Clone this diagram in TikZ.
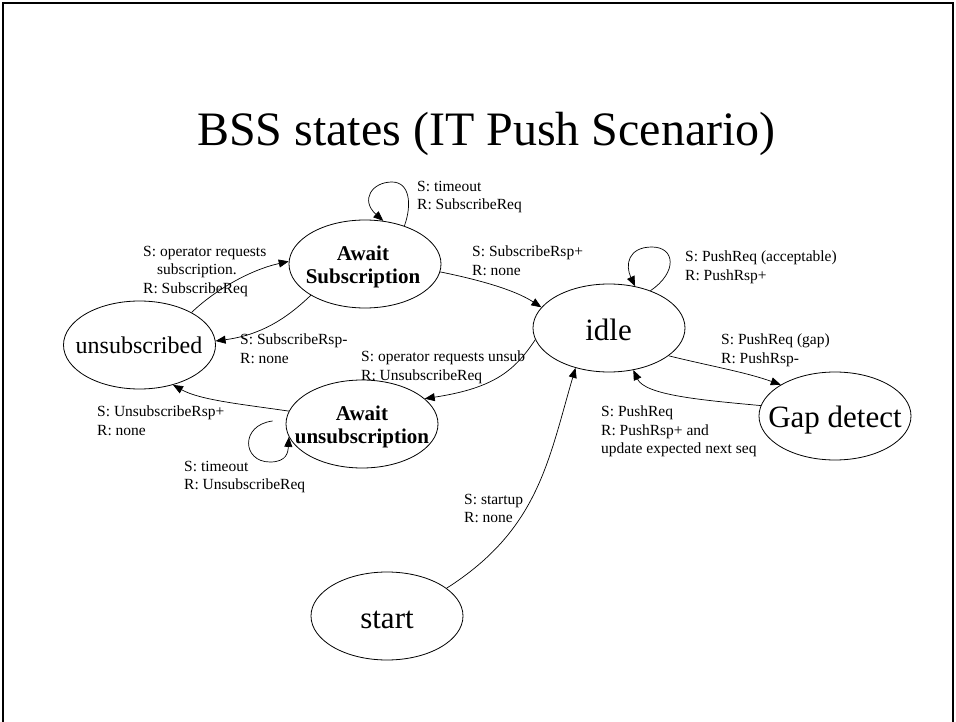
\documentclass[tikz,border=0pt]{standalone}
\usepackage{fontspec}
\setmainfont{Liberation Serif}
\usetikzlibrary{arrows.meta,shapes.geometric}
\begin{document}
\begin{tikzpicture}[x=1pt,y=-1pt,
  ell/.style={draw, ellipse, minimum width=152pt, minimum height=88pt, inner sep=0pt, line width=0.8pt},
  big/.style={font=\fontsize{31}{31}\selectfont, inner sep=0pt, anchor=base},
  boldlbl/.style={font=\fontsize{21}{23}\selectfont\bfseries, align=center, inner sep=0pt},
  lbl/.style={font=\fontsize{15.5}{18.5}\selectfont, align=left, anchor=north west, inner sep=0pt},
  conn/.style={line width=0.7pt, -{Triangle[length=10pt,width=8pt]}},
  frame/.style={line width=1.5pt}]
\useasboundingbox (0,0) rectangle (956,722);
\draw[frame] (3,722) -- (3,3) -- (953,3) -- (953,722);

\node[font=\fontsize{48}{48}\selectfont, anchor=base, inner sep=0pt] (title) at (486.5,146) {BSS states (IT Push Scenario)};

% states
\node[ell] (AS) at (365,264) {};
\node[ell] (U)  at (139.5,345) {};
\node[ell] (I)  at (609,328) {};
\node[ell] (G)  at (835,416) {};
\node[ell] (AU) at (362,424) {};
\node[ell] (S)  at (387,616) {};

\node[boldlbl] (AStxt) at (363,267) {Await\\Subscription};
\node[boldlbl] (AUtxt) at (362,427) {Await\\unsubscription};
\node[big, font=\fontsize{24}{24}\selectfont] (Utxt) at (139,353) {unsubscribed};
\node[big] (Itxt) at (608.5,340) {idle};
\node[big] (Gtxt) at (835,427) {Gap detect};
\node[big] (Stxt) at (387,628) {start};

% connectors
\draw[conn] (AS.44) .. controls (412,205) and (410,182) .. (392,182) .. controls (372,182) and (360,200) .. (AS.67);
\draw[conn] (U.32) .. controls (215,290) and (250,270) .. (AS.178);
\draw[conn] (AS.210) .. controls (285,320) and (260,335) .. (U.3);
\draw[conn] (AS.354) .. controls (480,280) and (515,290) .. (I.163);
\draw[conn] (I.42) .. controls (678,272) and (675,247) .. (652,247) .. controls (628,247) and (625,265) .. (I.58);
\draw[conn] (I.189) .. controls (515,370) and (495,388) .. (AU.22);
\draw[conn] (AU.170) .. controls (240,404) and (200,400) .. (U.310);
\draw[conn] ([shift={(-13pt,3pt)}]AU.west) .. controls (240,425) and (242,462) .. (270,462) .. controls (287,462) and (288,452) .. (AU.190);
\draw[conn] (G.172) .. controls (700,400) and (645,395) .. (I.300);
\draw[conn] (I.335) .. controls (710,366) and (745,372) .. (G.150);
\draw[conn] (S.25) .. controls (538,530) and (548,462) .. (I.230);

% labels
\node[lbl] (L1)  at (417,181) {S: timeout\\R: SubscribeReq};
\node[lbl] (L2)  at (143,246) {S: operator requests\\\hspace*{14pt}subscription.\\R: SubscribeReq};
\node[lbl] (L3)  at (472,246) {S: SubscribeRsp+\\R: none};
\node[lbl] (L4)  at (685,251) {S: PushReq (acceptable)\\R: PushRsp+};
\node[lbl] (L5)  at (240,334) {S: SubscribeRsp-\\R: none};
\node[lbl] (L6)  at (361,351) {S: operator requests unsub\\R: UnsubscribeReq};
\node[lbl] (L7)  at (721,334) {S: PushReq (gap)\\R: PushRsp-};
\node[lbl] (L8)  at (97,406)  {S: UnsubscribeRsp+\\R: none};
\node[lbl] (L9)  at (184,461) {S: timeout\\R: UnsubscribeReq};
\node[lbl] (L10) at (601,406) {S: PushReq\\R: PushRsp+ and\\update expected next seq};
\node[lbl] (L11) at (464,494) {S: startup\\R: none};
\end{tikzpicture}
\end{document}
